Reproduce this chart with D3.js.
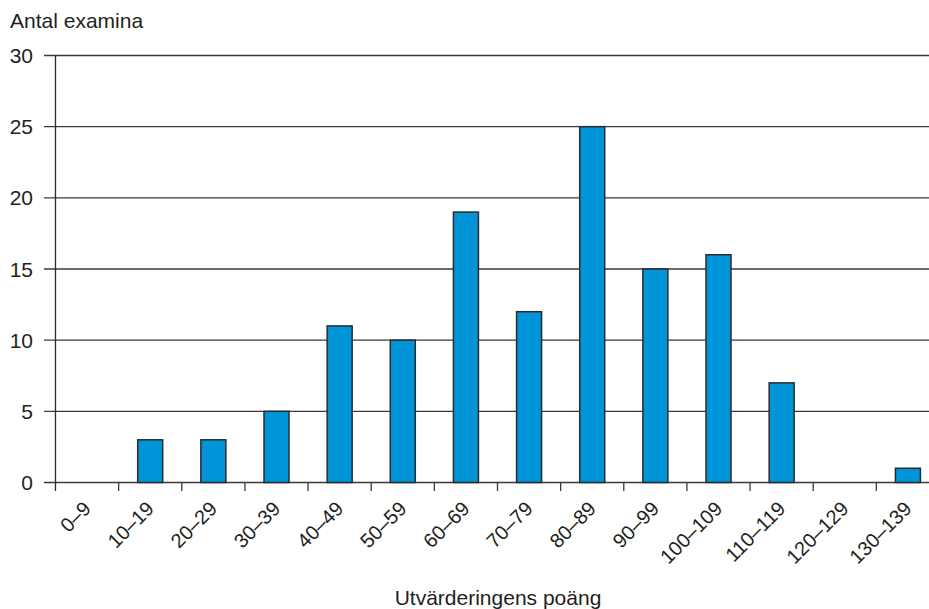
<!DOCTYPE html>
<html><head><meta charset="utf-8">
<script src="https://cdn.jsdelivr.net/npm/d3@7"></script>
<style>body{margin:0;background:#fff}svg{display:block}text{font-family:"Liberation Sans",Arial,sans-serif;fill:#231f20}</style>
</head><body><svg id="c" width="929" height="609"></svg>
<script>
const categories = ["0–9","10–19","20–29","30–39","40–49","50–59","60–69","70–79","80–89","90–99","100–109","110–119","120–129","130–139"];
const values = [0,3,3,5,11,10,19,12,25,15,16,7,0,1];
const yTicks = [0,5,10,15,20,25,30];
const yTitle = "Antal examina";
const xTitle = "Utvärderingens poäng";

const svg = d3.select("#c");
const x = d3.scaleBand().domain(categories).range([55.5, 939.5]).paddingInner(0).paddingOuter(0);
const y = d3.scaleLinear().domain([0,30]).range([482.5, 55.5]);
const barW = 25;

svg.append("g").selectAll("line").data(yTicks).join("line")
  .attr("x1", 44).attr("x2", 929)
  .attr("y1", d => y(d)).attr("y2", d => y(d))
  .attr("stroke", "#3a3a3a").attr("stroke-width", 1.3);

svg.append("g").selectAll("text").data(yTicks).join("text")
  .attr("x", 33).attr("y", d => y(d)).attr("dy", "0.36em")
  .attr("text-anchor", "end").attr("font-size", 21).text(d => d);

svg.append("g").selectAll("rect").data(values.map((v,i)=>({c:categories[i],v})).filter(d=>d.v>0)).join("rect")
  .attr("x", d => x(d.c) + x.bandwidth()/2 - barW/2)
  .attr("y", d => y(d.v))
  .attr("width", barW)
  .attr("height", d => y(0) - y(d.v))
  .attr("fill", "#0095d8").attr("stroke", "#2b2b2b").attr("stroke-width", 1.5);

svg.append("line").attr("x1", 55.5).attr("x2", 55.5).attr("y1", y(30)).attr("y2", 491)
  .attr("stroke", "#2b2b2b").attr("stroke-width", 1.3);

svg.append("g").selectAll("line").data(categories.slice(1)).join("line")
  .attr("x1", d => x(d)).attr("x2", d => x(d))
  .attr("y1", y(0)).attr("y2", 491)
  .attr("stroke", "#3a3a3a").attr("stroke-width", 1.3);

svg.append("g").selectAll("text").data(categories).join("text")
  .attr("transform", d => `translate(${x(d) + x.bandwidth()/2 + 5},${510}) rotate(-45)`)
  .attr("text-anchor", "end").attr("font-size", 20).text(d => d);

svg.append("text").attr("x", 10).attr("y", 28).attr("font-size", 21).text(yTitle);
svg.append("text").attr("x", 498).attr("y", 605).attr("text-anchor", "middle").attr("font-size", 21).text(xTitle);
</script></body></html>
